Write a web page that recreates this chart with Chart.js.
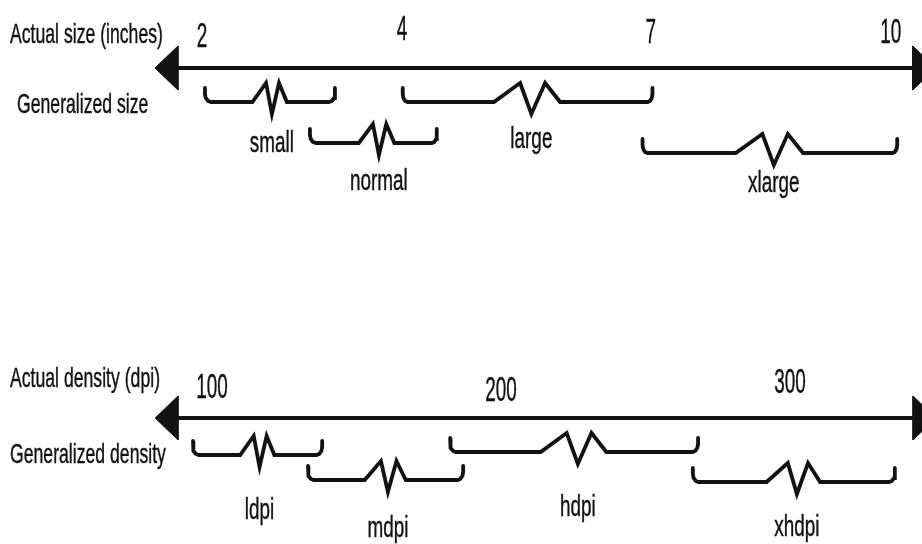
<!DOCTYPE html>
<html>
<head>
<meta charset="utf-8">
<script src="https://cdn.jsdelivr.net/npm/chart.js@4/dist/chart.umd.min.js"></script>
<style>
  html, body { margin: 0; padding: 0; background: #ffffff; }
  #wrap { width: 922px; height: 544px; }
</style>
</head>
<body>
<div id="wrap"><canvas id="c" width="922" height="544"></canvas></div>
<script>
// ---------------- data ----------------
const sizeTicks = [2, 4, 7, 10];
const sizeCategories = ['small', 'normal', 'large', 'xlarge'];
const sizeFrom = [2.03, 3.08, 4.01, 6.90];
const sizeTo = [3.33, 4.42, 7.02, 10.08];
const sizeTitles = ['Actual size (inches)', 'Generalized size'];

const densityTicks = [100, 200, 300];
const densityCategories = ['ldpi', 'mdpi', 'hdpi', 'xhdpi'];
const densityFrom = [93.4, 133.2, 182.4, 266.4];
const densityTo = [138.1, 186.9, 268.2, 336.3];
const densityTitles = ['Actual density (dpi)', 'Generalized density'];

// ---------------- layout (vertical layout units, arrow extents) ----------------
const LAYOUT = {
  size: {
    axisY: 68, rows: [102, 143, 102, 153], labelBase: [152, 190, 148, 192],
    tickBase: [47, 40, 43, 43], titleBase: [43, 113], titleLeft: [10, 17],
    arrow: { tipL: 1.53, baseL: 1.76, baseR: 10.275, tipR: 10.56 }, hook: 0.06
  },
  density: {
    axisY: 418, rows: [455, 480, 452, 482], labelBase: [519, 537, 516, 536],
    tickBase: [398, 401, 393], titleBase: [387, 463], titleLeft: [10, 10],
    arrow: { tipL: 80.3, baseL: 88.2, baseR: 342.6, tipR: 350.5 }, hook: 2.0
  }
};
const SHAPE = {
  zigX: [-0.135, -0.03, 0.015, 0.07, 0.13],
  zigY: [0, -19, 12, -19, 0],
  hookTop: -14, arrowHalf: 22
};
const INK = '#121212';

// ---------------- piecewise-linear scale (diagram's uneven inch spacing) ----------------
class BrokenLinearScale extends Chart.LinearScale {
  _pos(v) {
    const k = this.options.knots;
    let i = 0;
    while (i < k.length - 2 && v > k[i + 1][0]) i++;
    const a = k[i], b = k[i + 1];
    return a[1] + (v - a[0]) * (b[1] - a[1]) / (b[0] - a[0]);
  }
  getPixelForValue(value) {
    if (value === null || value === undefined || isNaN(value)) return NaN;
    const a = this._pos(this.min), b = this._pos(this.max);
    return this.getPixelForDecimal((this._pos(value) - a) / (b - a));
  }
  getValueForPixel(pixel) {
    const d = this.getDecimalForPixel(pixel);
    const a = this._pos(this.min), b = this._pos(this.max);
    const p = a + d * (b - a);
    const k = this.options.knots;
    let i = 0;
    while (i < k.length - 2 && p > k[i + 1][1]) i++;
    const s = k[i], e = k[i + 1];
    return s[0] + (p - s[1]) * (e[0] - s[0]) / (e[1] - s[1]);
  }
}
BrokenLinearScale.id = 'brokenLinear';
BrokenLinearScale.defaults = Chart.LinearScale.defaults;
Chart.register(BrokenLinearScale);

// ---------------- build datasets ----------------
function bracketPoints(from, to, row, hook) {
  const w = to - from, mid = (from + to) / 2;
  const pts = [];
  const hookShape = [[0, SHAPE.hookTop], [0, -8], [0.134, -4], [0.5, -1.07], [1, 0]];
  hookShape.forEach(([fx, dy]) => pts.push({ x: from + fx * hook, y: row + dy }));
  SHAPE.zigX.forEach((fx, i) => pts.push({ x: mid + fx * w, y: row + SHAPE.zigY[i] }));
  hookShape.slice().reverse().forEach(([fx, dy]) => pts.push({ x: to - fx * hook, y: row + dy }));
  return pts;
}

function axisDatasets(key, xAxisID) {
  const L = LAYOUT[key], A = L.arrow, y = L.axisY, h = SHAPE.arrowHalf;
  const common = { xAxisID, yAxisID: 'y', pointRadius: 0, borderColor: INK, tension: 0 };
  return [
    Object.assign({ label: key + ' axis', data: [{ x: A.baseL - 0.01, y }, { x: A.baseR + 0.01, y }], borderWidth: 4, fill: false }, common),
    Object.assign({ label: key + ' arrow L', data: [{ x: A.tipL, y }, { x: A.baseL, y: y - h }, { x: A.baseL, y: y + h }, { x: A.tipL, y }],
      borderWidth: 1, fill: 'shape', backgroundColor: INK }, common),
    Object.assign({ label: key + ' arrow R', data: [{ x: A.tipR, y }, { x: A.baseR, y: y - h }, { x: A.baseR, y: y + h }, { x: A.tipR, y }],
      borderWidth: 1, fill: 'shape', backgroundColor: INK }, common)
  ];
}

function bracketDatasets(key, xAxisID, names, from, to) {
  const L = LAYOUT[key];
  return names.map((name, i) => ({
    label: name, xAxisID, yAxisID: 'y',
    data: bracketPoints(from[i], to[i], L.rows[i], L.hook),
    borderColor: INK, borderWidth: 3.8, pointRadius: 0, tension: 0, fill: false,
    borderCapStyle: 'round', borderJoinStyle: 'miter'
  }));
}

const datasets = [].concat(
  axisDatasets('size', 'xs'),
  axisDatasets('density', 'xd'),
  bracketDatasets('size', 'xs', sizeCategories, sizeFrom, sizeTo),
  bracketDatasets('density', 'xd', densityCategories, densityFrom, densityTo)
);

// ---------------- text plugin ----------------
const FONT = "'Liberation Sans', Arial, sans-serif";
function drawText(ctx, str, x, y, size, sx, align) {
  ctx.save();
  ctx.translate(x, y);
  ctx.scale(sx, 1);
  ctx.font = size + 'px ' + FONT;
  ctx.textAlign = align;
  ctx.textBaseline = 'alphabetic';
  ctx.fillStyle = INK;
  ctx.strokeStyle = INK;
  ctx.lineWidth = 0.45;
  ctx.lineJoin = 'round';
  ctx.fillText(str, 0, 0);
  ctx.strokeText(str, 0, 0);
  ctx.restore();
}

const textPlugin = {
  id: 'diagramText',
  afterDatasetsDraw(chart) {
    const ctx = chart.ctx, ys = chart.scales.y, left = chart.chartArea.left;
    const groups = [
      { key: 'size', scale: chart.scales.xs, ticks: sizeTicks, names: sizeCategories, from: sizeFrom, to: sizeTo, titles: sizeTitles },
      { key: 'density', scale: chart.scales.xd, ticks: densityTicks, names: densityCategories, from: densityFrom, to: densityTo, titles: densityTitles }
    ];
    groups.forEach(g => {
      const L = LAYOUT[g.key];
      g.titles.forEach((t, i) => drawText(ctx, t, left + L.titleLeft[i], ys.getPixelForValue(L.titleBase[i]), 28, 0.63, 'left'));
      g.ticks.forEach((t, i) => drawText(ctx, String(t), g.scale.getPixelForValue(t), ys.getPixelForValue(L.tickBase[i]), 35, 0.54, 'center'));
      g.names.forEach((n, i) => {
        const w = g.to[i] - g.from[i];
        const xv = (g.from[i] + g.to[i]) / 2 + SHAPE.zigX[2] * w;
        drawText(ctx, n, g.scale.getPixelForValue(xv), ys.getPixelForValue(L.labelBase[i]), 30, 0.63, 'center');
      });
    });
  }
};

new Chart(document.getElementById('c'), {
  type: 'line',
  data: { datasets },
  options: {
    responsive: false,
    animation: false,
    events: [],
    layout: { padding: 0 },
    plugins: { legend: { display: false }, tooltip: { enabled: false }, title: { display: false } },
    scales: {
      xs: { type: 'brokenLinear', display: false, min: -0.02, max: 10.39,
            knots: [[2, 0], [4, 200], [7, 449], [10, 689]] },
      xd: { type: 'linear', display: false, min: 26.6, max: 345.7 },
      y: { type: 'linear', display: false, min: 0, max: 544, reverse: true }
    }
  },
  plugins: [textPlugin]
});
</script>
</body>
</html>
